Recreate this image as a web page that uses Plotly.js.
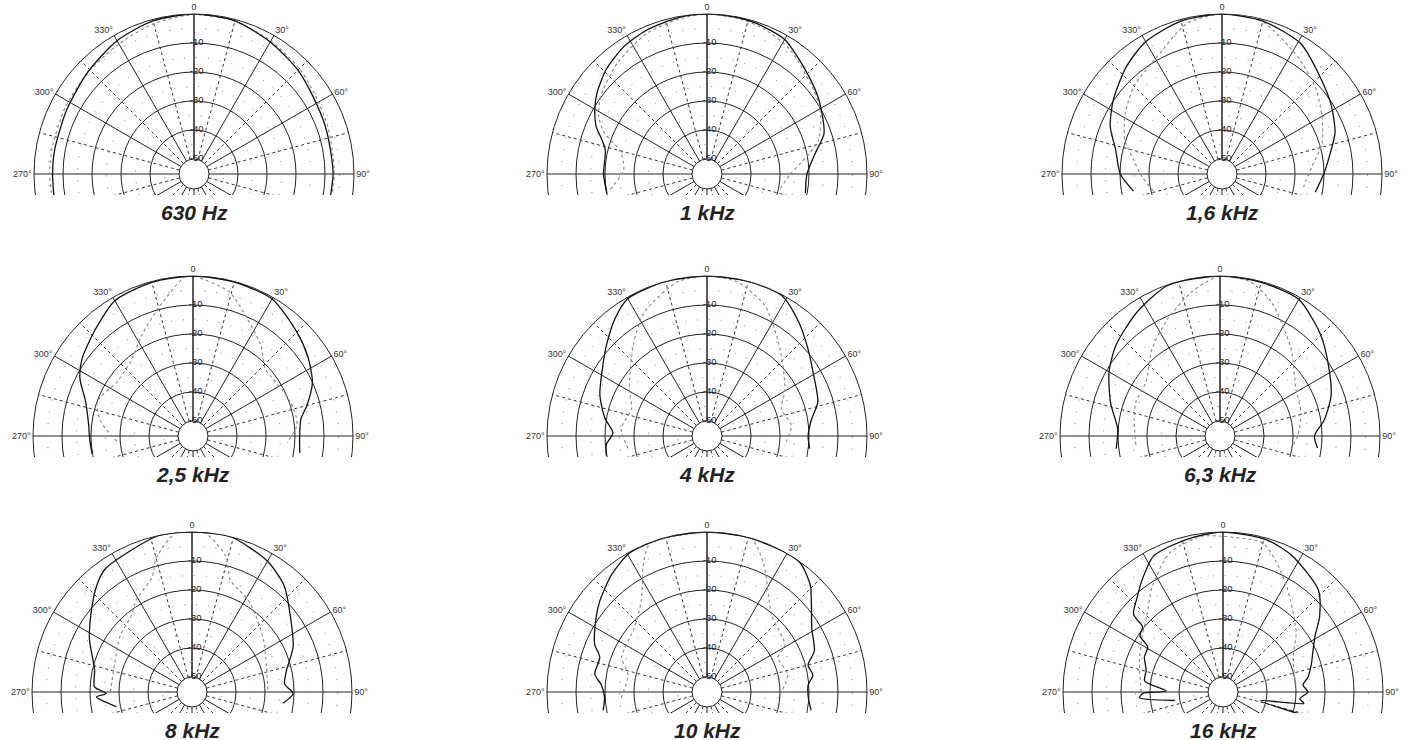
<!DOCTYPE html>
<html><head><meta charset="utf-8">
<script src="https://cdn.plot.ly/plotly-3.0.1.min.js"></script>
<style>
html,body{margin:0;padding:0;background:#fff;overflow:hidden;width:1415px;height:740px;}
.cell{position:absolute;width:500px;height:245px;overflow:hidden;background:#fff;}
.plot{width:500px;height:380px;}
</style></head><body>
<div id="root"></div>
<script>
// ---- data (theta in degrees, clockwise from 0 = front; r in dB) ----
const TITLES = ['630 Hz','1 kHz','1,6 kHz','2,5 kHz','4 kHz','6,3 kHz','8 kHz','10 kHz','16 kHz'];

const ts_630 = [-100,-90,-80,-63,-46,-30,-15,0,15,30,45,57,70,80,90,100];
const s_630  = [-6.2,-6.4,-6.4,-6,-4.4,-2.1,-0.5,0,-0.5,-2.6,-4.5,-6.2,-7,-7.4,-7.2,-7.5];
const td_630 = [-100,-90,-80,-63,-46,-30,-15,0,15,30,45,57,70,80,90,100];
const d_630  = [-5.5,-5.4,-5.4,-5.2,-4.5,-3.4,-1.5,-0.2,-0.6,-2.2,-3.8,-5.3,-6.2,-6.8,-6.8,-7];

const ts_1k = [-101,-90,-77,-72,-67,-60,-54,-44,-33,-23,-10,0,10,18,30,45,57,71,79,90,101];
const s_1k  = [-20,-19.5,-19.2,-17.1,-13.7,-10.5,-8.2,-5.1,-2.7,-1.4,-0.3,0,-0.2,-0.5,-1.6,-6.2,-9,-12.5,-17.1,-20.7,-20.6];
const td_1k = [-99,-87,-75,-68,-62,-54,-39,-23,-10,0,12,22,34,53,62,73,80,90,101];
const d_1k  = [-21.4,-26.4,-24.1,-16.9,-12.9,-9.8,-6,-2.4,-0.8,0,-0.5,-1.5,-3.7,-8.6,-10.8,-14.9,-20.2,-26.4,-29.4];

const ts_1k6 = [-101,-90,-77,-67,-56,-42,-30,-15,0,15,31,45,58,70,79,90,101];
const s_1k6  = [-24.1,-20.1,-17.5,-13.3,-9.9,-5.7,-2.5,-0.6,0,-0.6,-2.6,-7.5,-10.7,-13.7,-17.1,-20.1,-22.4];
const td_1k6 = [-104,-92,-81,-71,-58,-45,-29,-13,0,14,33,48,60,73,85,99];
const d_1k6  = [-30.8,-27.6,-24.3,-19.8,-15.8,-12.3,-9,-1.8,0,-0.5,-7.1,-11.5,-15.4,-19.1,-24,-26.7];

const ts_2k5 = [-100,-91,-84,-72,-63,-55,-42,-30,-15,0,15,30,45,56,66,75,81,91,99];
const s_2k5  = [-19.8,-19.5,-19,-16.2,-11.4,-8.5,-5.2,-1.3,-0.3,0,-0.2,-0.6,-4.5,-7.2,-10.1,-14.5,-17.5,-18.4,-17.9];
const td_2k5 = [-94,-81,-70,-55,-40,-27,-14,-3,0,14,25,37,47,64,75,84,94];
const d_2k5  = [-28.9,-22.9,-20.1,-23,-21.7,-16.2,-8.7,-0.3,0,-3.9,-10.7,-16.2,-21.1,-20.4,-19.2,-19.1,-22.6];

const ts_4k = [-101,-95,-88,-80,-69,-57,-48,-38,-30,-15,0,15,28,39,49,59,73,81,90,97];
const s_4k  = [-19.8,-20.3,-22.7,-19.4,-15.6,-12.2,-8.5,-3.7,-0.5,0,0,0,-0.3,-4.8,-9.1,-12.5,-15.2,-18.7,-20.3,-19.5];
const td_4k = [-99,-85,-70,-59,-39,-27,-11,0,11,24,40,59,70,83,97];
const d_4k  = [-27.6,-25.5,-27.5,-23.9,-14.8,-7.4,-1.1,0,-1,-6,-16,-23.8,-27.8,-25.9,-28.2];

const ts_6k3 = [-97,-86,-73,-60,-49,-34,-19,0,15,30,45,58,70,81,90,97];
const s_6k3  = [-19.1,-19.8,-15.7,-11,-7.6,-3.8,-0.2,0,-0.3,-0.8,-6,-10.9,-14.4,-18.7,-22.6,-21.3];
const td_6k3 = [-96,-79,-68,-54,-38,-24,-11,0,11,21,39,58,74,90,100];
const d_6k3  = [-26,-25,-23.9,-23.6,-17.1,-10.9,-4.5,0,-1,-5.7,-16.3,-24.3,-26.1,-28.4,-30.3];

const ts_8k = [-101,-93,-91,-87,-77,-63,-52,-42,-35,-12,0,14,30,41,55,66,77,85,91,97];
const s_8k  = [-28.6,-22.2,-25.6,-21.5,-20.7,-15.5,-11,-6,-3.2,0,0,0,-3.1,-6.7,-13.4,-17,-21.7,-23.1,-20.3,-23.6];
const td_8k = [-90,-69,-52,-39,-31,-19,-15,-6,0,5,14,19,31,40,54,71,90];
const d_8k  = [-27,-26.7,-23.7,-21.7,-18,-13.1,-7.4,-0.1,0,-0.3,-6.9,-14.4,-17.9,-20.9,-24.7,-28,-29];

const ts_10k = [-100,-93,-86,-81,-72,-67,-59,-50,-39,-29,-15,0,15,30,36,44,49,59,69,75,81,86,93,100];
const s_10k  = [-18.8,-19.8,-18.6,-16,-16.3,-13.1,-10.2,-6.8,-3,-0.3,0,0,0,0,-0.3,-3.9,-7.5,-13,-15.5,-19.1,-18.2,-20.2,-20.2,-18.7];
const td_10k = [-94,-78,-68,-62,-49,-36,-26,-21,-10,0,16,24,40,59,64,78,95];
const d_10k  = [-25.5,-27.3,-23.4,-23,-21.8,-16.6,-5.3,-0.3,-0.4,0,0,-7,-20.5,-23.8,-28,-26.7,-30.6];

const ts_16k = [-100,-94,-91,-89,-82,-74,-66,-59,-56,-51,-49,-42,-36,-27,-20,-10,0,16,27,43,52,59,65,72,80,85,90,95,98,103,106];
const s_16k  = [-38.3,-26.3,-27.6,-35.6,-27.9,-27.6,-25.5,-24.9,-20.6,-19.5,-14.3,-11,-7.6,-2.5,-1.7,-0.8,0,-0.6,-2.5,-7,-12.9,-18.2,-20.9,-23.1,-25.4,-27.5,-25.9,-28.6,-27,-42,-28];
const td_16k = [-90,-71,-57,-45,-34,-21,-8,0,15,22,31,40,51,63,90];
const d_16k  = [-27,-24.7,-21.7,-18,-11.5,-3.8,-1,-1.5,-2,-6.5,-12.6,-17.9,-22.7,-28,-30];

const SOLID_T  = [ts_630, ts_1k, ts_1k6, ts_2k5, ts_4k, ts_6k3, ts_8k, ts_10k, ts_16k];
const SOLID_R  = [s_630, s_1k, s_1k6, s_2k5, s_4k, s_6k3, s_8k, s_10k, s_16k];
const DOTTED_T = [td_630, td_1k, td_1k6, td_2k5, td_4k, td_6k3, td_8k, td_10k, td_16k];
const DOTTED_R = [d_630, d_1k, d_1k6, d_2k5, d_4k, d_6k3, d_8k, d_10k, d_16k];

const RING_TICKS = [-40,-30,-20,-10];
const MINOR_RINGS = [-45,-35,-25,-15,-5];
const ANGLE_TICKS = [0,30,60,90,120,150,180,210,240,270,300,330];
const ANGLE_TEXT = ['0','30°','60°','90°','','','','','','270°','300°','330°'];
const MINOR_SPOKES = [15,45,75,105,135,165,195,225,255,285,315,345];
const RADIAL_LABEL_R = [-50,-40,-30,-20,-10];
const RADIAL_LABEL_T = ['-50','-40','-30','-20','-10'];

// ---- page layout ----
const CENTERS = [[194,174],[707,174],[1222,174],[193,436],[707,436],[1220,436],[192,692],[707,692],[1223,692]];
const W = 500, H = 380, R = 160, CX = 250, CY = 185, CUT = 21, TITLE_DY = 38;
const NBSP = '\u00a0';

const root = document.getElementById('root');
CENTERS.forEach((c, i) => {
  const cell = document.createElement('div');
  cell.className = 'cell';
  cell.style.left = (c[0] - CX) + 'px';
  cell.style.top = (c[1] - CY) + 'px';
  const pd = document.createElement('div');
  pd.className = 'plot';
  cell.appendChild(pd);
  root.appendChild(cell);

  const dom = {x: [(CX - R) / W, (CX + R) / W], y: [1 - (CY + R) / H, 1 - (CY - R) / H]};
  const theta0 = RADIAL_LABEL_R.map(() => 0);
  const traces = [
    {type: 'scatterpolar', subplot: 'polar', r: [], theta: [], mode: 'lines', hoverinfo: 'skip'},
    {type: 'scatterpolar', subplot: 'polar2', r: DOTTED_R[i], theta: DOTTED_T[i], mode: 'lines',
     line: {color: '#8c8c8c', width: 1.2, dash: 'dot', shape: 'spline', smoothing: 0.7}, hoverinfo: 'skip'},
    {type: 'scatterpolar', subplot: 'polar2', r: SOLID_R[i], theta: SOLID_T[i], mode: 'lines',
     line: {color: '#111', width: 1.3, shape: 'spline', smoothing: 0.7}, hoverinfo: 'skip'},
    {type: 'scatterpolar', subplot: 'polar2', r: RADIAL_LABEL_R, theta: theta0, mode: 'text',
     text: RADIAL_LABEL_T.map(t => NBSP + NBSP + t), textposition: 'middle center', cliponaxis: false,
     textfont: {size: 9.5, color: '#222', family: 'Liberation Sans, Arial, sans-serif'}, hoverinfo: 'skip'}
  ];
  const layout = {
    width: W, height: H, margin: {l: 0, r: 0, t: 0, b: 0, pad: 0},
    paper_bgcolor: '#fff', showlegend: false,
    font: {family: 'Liberation Sans, Arial, sans-serif', size: 9, color: '#333'},
    polar: {
      domain: dom, hole: 15 / 160, bgcolor: '#fff',
      radialaxis: {range: [-50, 0], tickvals: RING_TICKS, showticklabels: false, ticks: '', angle: 90,
                   showline: true, linecolor: '#222', linewidth: 1, gridcolor: '#222', gridwidth: 1},
      angularaxis: {rotation: 90, direction: 'clockwise', tickvals: ANGLE_TICKS, ticktext: ANGLE_TEXT, ticks: '',
                    showline: true, linecolor: '#222', linewidth: 1, gridcolor: '#222', gridwidth: 1,
                    tickfont: {size: 9, color: '#333'}}
    },
    polar2: {
      domain: dom, hole: 15 / 160, bgcolor: 'rgba(0,0,0,0)',
      radialaxis: {range: [-50, 0], tickvals: MINOR_RINGS, showticklabels: false, ticks: '', showline: false,
                   gridcolor: '#777', gridwidth: 1, griddash: '1px,11px'},
      angularaxis: {rotation: 90, direction: 'clockwise', tickvals: MINOR_SPOKES, showticklabels: false, ticks: '',
                    showline: false, gridcolor: '#333', gridwidth: 1, griddash: '3px,3px'}
    },
    shapes: [{type: 'rect', xref: 'paper', yref: 'paper', x0: 0, x1: 1, y0: 0, y1: 1 - (CY + CUT) / H,
              fillcolor: '#fff', line: {width: 0}, layer: 'above'}],
    annotations: [{xref: 'paper', yref: 'paper', x: 0.5, y: 1 - (CY + TITLE_DY) / H, xanchor: 'center', yanchor: 'middle',
                   text: '<b><i>' + TITLES[i] + '</i></b>', showarrow: false,
                   font: {size: 21, color: '#222', family: 'Liberation Sans, Arial, sans-serif'}}]
  };
  Plotly.newPlot(pd, traces, layout, {staticPlot: true, displayModeBar: false});
});
</script>
</body></html>
